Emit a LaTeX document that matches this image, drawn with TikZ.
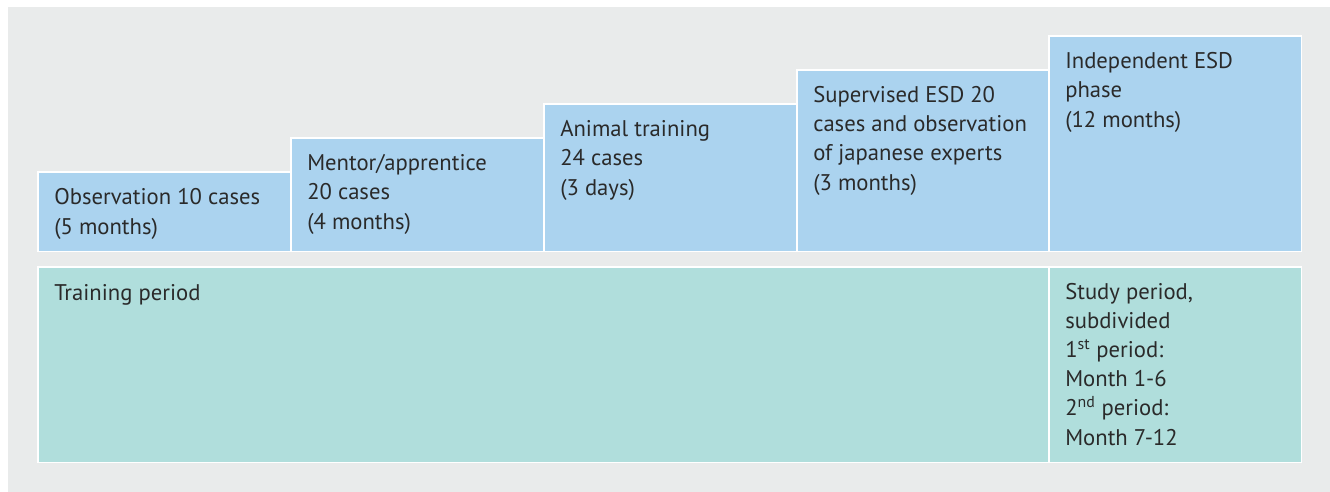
\documentclass[tikz,border=0pt]{standalone}
\usepackage{fontspec}
\setmainfont{PT Sans}
\definecolor{bggray}{HTML}{E9EBEB}
\definecolor{stepblue}{HTML}{ABD3EF}
\definecolor{periodteal}{HTML}{B0DEDC}
\definecolor{txt}{HTML}{2A2A2A}
\begin{document}
\begin{tikzpicture}[x=0.75pt,y=-0.75pt,
  stepbox/.style={fill=stepblue,draw=white,line width=0.9pt},
  periodbox/.style={fill=periodteal,draw=white,line width=0.9pt},
  lbl/.style={anchor=base west,inner sep=0pt,align=left,text=txt,
    font=\fontsize{17pt}{21.8pt}\selectfont}]
\useasboundingbox (0,0) rectangle (1330,492);
\fill[white] (0,0) rectangle (1330,492);
\fill[bggray] (8,7) rectangle (1330,492);
% steps
\draw[stepbox] (38,172) rectangle (290.5,251.5);
\draw[stepbox] (291,138) rectangle (543.5,251.5);
\draw[stepbox] (544,104) rectangle (796.5,251.5);
\draw[stepbox] (797,70) rectangle (1048.5,251.5);
\draw[stepbox] (1049,36) rectangle (1301.5,251.5);
% periods
\draw[periodbox] (38,267) rectangle (1048.5,462.5);
\draw[periodbox] (1049,267) rectangle (1301.5,462.5);
% labels (anchored at the baseline of the last line)
\node[lbl] (s1) at (54,234) {Observation 10 cases\\(5 months)};
\node[lbl] (s2) at (307,229) {Mentor/apprentice\\20 cases\\(4 months)};
\node[lbl] (s3) at (560,195) {Animal training\\24 cases\\(3 days)};
\node[lbl] (s4) at (813,190) {Supervised ESD 20\\cases and observation\\of japanese experts\\(3 months)};
\node[lbl] (s5) at (1065,127) {Independent ESD\\phase\\(12 months)};
\node[lbl] (p1) at (54,300) {Training period};
\node[lbl] (p2) at (1065,445) {Study period,\\subdivided\\1\textsuperscript{st} period:\\Month 1-6\\2\textsuperscript{nd} period:\\Month 7-12};
\end{tikzpicture}
\end{document}
